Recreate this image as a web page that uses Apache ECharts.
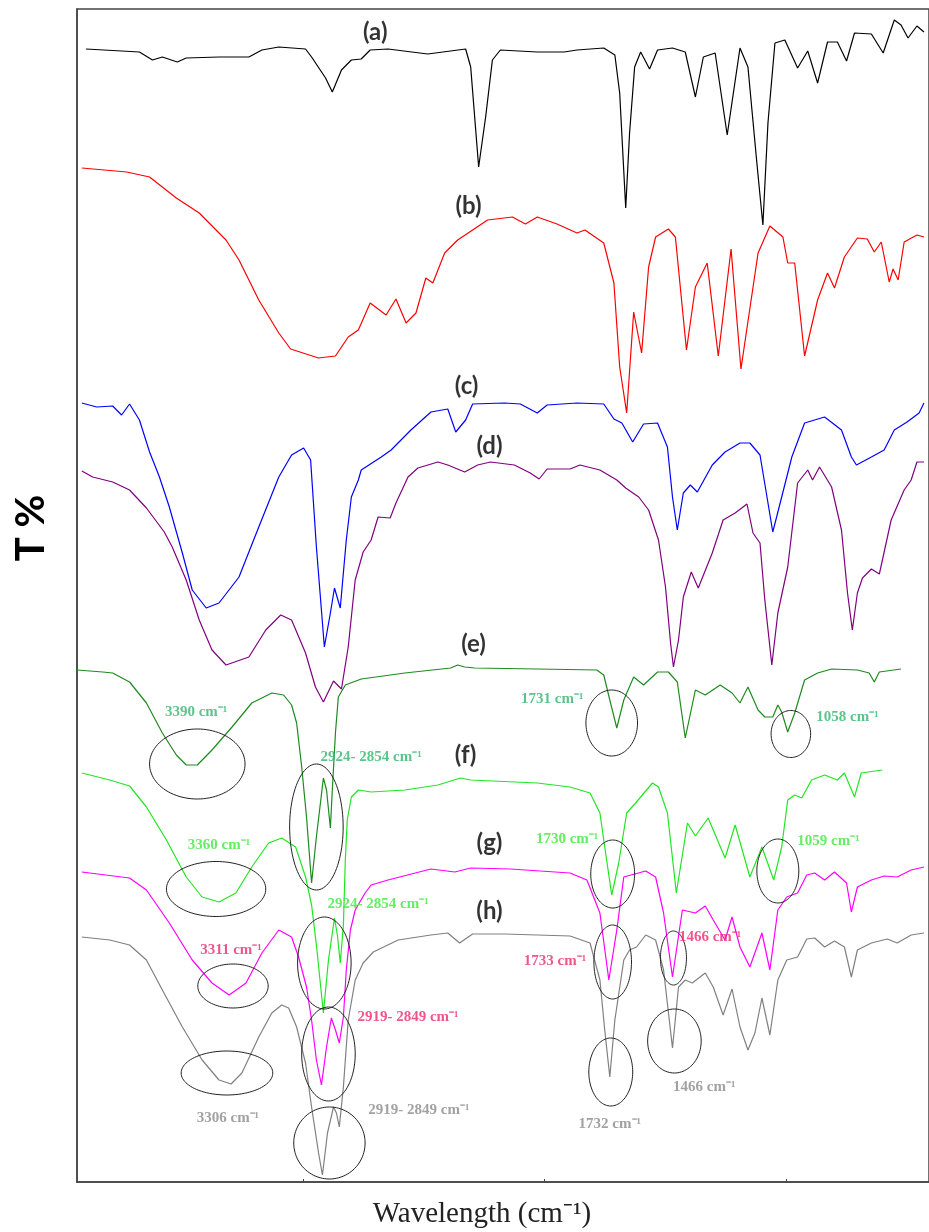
<!DOCTYPE html>
<html>
<head>
<meta charset="utf-8">
<script src="https://cdn.jsdelivr.net/npm/echarts@6/dist/echarts.min.js"></script>
<style>
html,body{margin:0;padding:0;background:#fff;}
#chart{width:929px;height:1232px;}
</style>
</head>
<body>
<div id="chart"></div>
<script>
// FTIR spectra: [wavenumber (cm-1), T% (offset, stacked)]
const curveA = [[3903,113.3],[3681,113.0],[3627,112.2],[3586,112.5],[3524,112.0],[3487,112.4],[3351,112.5],[3227,112.5],[3173,113.2],[3103,113.5],[2992,113.3],[2967,112.5],[2909,110.4],[2881,109.0],[2843,111.2],[2802,112.2],[2761,112.3],[2724,113.2],[2650,113.3],[2485,112.8],[2328,113.3],[2307,111.5],[2274,101.5],[2245,106.5],[2217,112.2],[2184,113.2],[2031,113.0],[1920,113.0],[1866,113.2],[1755,113.4],[1709,112.7],[1689,108.9],[1664,97.4],[1648,104.9],[1627,111.5],[1602,113.0],[1565,111.3],[1532,113.2],[1470,113.4],[1417,113.0],[1375,108.5],[1342,112.5],[1293,112.9],[1243,104.7],[1190,113.4],[1157,111.5],[1120,101.9],[1095,95.7],[1074,105.9],[1045,113.9],[1004,114.2],[951,111.4],[909,113.1],[868,109.9],[827,114.0],[786,114.0],[748,112.1],[715,114.9],[645,114.8],[596,112.9],[550,116.2],[522,115.7],[493,114.4],[456,115.6],[427,115.0]];

const curveB = [[3920,101.4],[3734,101.0],[3639,100.5],[3528,98.4],[3433,96.9],[3322,94.2],[3268,92.2],[3186,88.2],[3103,84.9],[3054,83.3],[2938,82.4],[2868,82.6],[2815,84.5],[2773,85.2],[2724,87.9],[2658,86.7],[2617,88.3],[2575,85.9],[2534,86.9],[2493,90.4],[2464,89.9],[2415,92.9],[2361,94.2],[2237,96.2],[2134,96.5],[2080,95.8],[2031,96.5],[1949,95.8],[1866,94.9],[1833,95.2],[1755,93.9],[1713,89.9],[1689,81.5],[1660,76.9],[1631,87.0],[1598,82.9],[1569,91.5],[1540,94.5],[1487,95.3],[1458,94.5],[1412,83.2],[1375,89.5],[1326,91.9],[1280,82.6],[1227,93.3],[1186,81.3],[1115,92.9],[1066,95.6],[1012,94.5],[992,91.9],[963,91.9],[922,82.6],[868,88.2],[827,90.9],[798,89.4],[757,92.5],[703,94.4],[662,94.3],[633,93.0],[604,94.0],[571,90.0],[555,91.3],[534,90.2],[509,94.0],[456,94.7],[427,94.5]];

const curveC = [[3920,77.9],[3858,77.5],[3792,77.6],[3755,76.7],[3722,77.8],[3681,76.2],[3639,73.0],[3598,70.5],[3557,67.5],[3503,62.9],[3462,59.2],[3404,57.4],[3351,57.9],[3268,60.5],[3186,65.5],[3103,70.5],[3050,72.7],[3000,73.4],[2971,72.2],[2947,63.5],[2914,53.5],[2889,56.9],[2872,59.4],[2848,57.4],[2823,64.2],[2802,68.5],[2773,70.2],[2761,71.2],[2678,72.5],[2637,73.2],[2555,75.2],[2472,77.0],[2402,77.3],[2369,75.0],[2328,76.2],[2299,77.8],[2167,77.9],[2101,77.8],[2031,76.9],[1990,77.7],[1866,77.9],[1755,77.8],[1713,76.3],[1680,75.9],[1635,74.0],[1590,75.8],[1532,75.9],[1491,73.5],[1470,68.5],[1450,65.2],[1425,68.9],[1396,69.7],[1367,69.0],[1305,71.7],[1252,73.0],[1190,73.9],[1149,73.9],[1107,72.7],[1078,68.5],[1054,65.0],[1017,68.5],[975,72.5],[922,75.9],[839,76.5],[769,75.2],[728,72.5],[707,71.7],[645,72.5],[592,73.2],[550,75.2],[497,76.0],[447,76.9],[427,77.9]];

const curveD = [[3920,71.1],[3875,70.5],[3792,70.0],[3722,69.2],[3652,67.4],[3578,65.0],[3545,63.5],[3487,60.2],[3433,56.2],[3380,53.2],[3322,51.7],[3227,52.5],[3157,55.2],[3095,56.7],[3050,56.2],[2992,52.9],[2951,49.5],[2918,48.0],[2876,50.1],[2843,49.3],[2815,53.5],[2786,60.2],[2753,63.0],[2720,64.2],[2691,66.5],[2641,66.4],[2617,67.9],[2567,70.5],[2526,71.4],[2443,72.0],[2402,71.7],[2332,71.0],[2278,71.7],[2225,72.0],[2126,71.7],[2060,70.9],[2023,70.3],[1990,71.3],[1895,71.3],[1854,71.7],[1771,71.2],[1701,70.2],[1664,69.4],[1610,68.5],[1569,67.2],[1528,64.2],[1499,59.5],[1478,53.9],[1466,51.5],[1445,54.2],[1425,58.5],[1392,61.0],[1363,59.4],[1305,62.9],[1260,66.2],[1210,66.9],[1161,67.8],[1136,64.9],[1107,63.9],[1087,58.2],[1058,51.7],[1033,56.9],[992,61.5],[951,69.9],[909,71.2],[889,70.2],[860,71.5],[810,69.5],[769,65.2],[744,58.9],[724,55.2],[703,58.9],[682,60.4],[645,61.3],[612,60.8],[563,66.2],[509,69.2],[480,70.2],[456,72.0],[427,72.0]];

const curveE = [[3969,51.2],[3940,51.2],[3833,51.0],[3792,50.9],[3722,50.0],[3652,47.9],[3586,44.9],[3528,42.7],[3487,41.7],[3441,41.7],[3380,43.2],[3297,45.5],[3215,47.9],[3132,48.9],[3083,48.7],[3050,47.7],[3029,45.9],[3008,41.5],[2988,36.5],[2967,29.9],[2947,34.5],[2918,40.4],[2905,39.2],[2889,35.4],[2881,39.2],[2868,44.9],[2856,48.5],[2827,49.7],[2761,50.3],[2580,50.9],[2390,51.4],[2361,51.7],[2332,51.5],[2291,51.4],[2031,51.3],[1784,51.2],[1755,50.7],[1730,48.2],[1701,45.4],[1672,48.2],[1631,50.5],[1590,49.7],[1532,51.0],[1487,51.0],[1450,50.0],[1417,44.4],[1375,49.2],[1334,48.7],[1272,49.7],[1223,48.9],[1190,47.9],[1157,49.5],[1115,47.2],[1087,46.5],[1054,46.5],[1033,47.7],[1017,47.0],[992,45.0],[963,46.9],[922,50.2],[868,50.9],[810,51.3],[703,51.2],[654,50.9],[633,50.0],[612,51.0],[522,51.3]];

const curveF = [[3920,40.9],[3804,40.2],[3722,39.6],[3652,37.5],[3569,34.2],[3487,30.5],[3421,28.5],[3351,28.0],[3281,28.9],[3215,31.5],[3145,33.9],[3091,34.4],[3033,33.5],[2992,30.5],[2967,27.7],[2947,23.7],[2918,16.9],[2897,22.2],[2872,26.4],[2860,24.7],[2848,21.9],[2835,25.7],[2827,32.2],[2819,36.2],[2802,38.5],[2773,39.2],[2720,39.0],[2580,39.2],[2443,39.7],[2349,40.4],[2307,40.2],[2031,39.9],[1895,39.5],[1812,38.9],[1771,36.9],[1751,33.5],[1722,28.7],[1693,31.9],[1660,36.9],[1623,37.9],[1553,39.9],[1528,39.5],[1491,36.9],[1454,28.9],[1408,35.9],[1375,34.6],[1322,36.4],[1252,32.4],[1210,35.7],[1149,30.5],[1099,33.5],[1050,30.2],[1017,33.5],[992,38.2],[963,38.7],[934,38.4],[893,40.2],[839,40.7],[786,40.2],[757,40.9],[715,38.5],[687,40.9],[600,41.2]];

const curveG = [[3920,31.0],[3722,30.4],[3652,29.2],[3557,25.9],[3462,22.2],[3380,19.9],[3309,18.7],[3239,19.9],[3173,22.9],[3103,25.2],[3050,24.5],[3021,22.5],[2988,19.5],[2967,16.2],[2947,12.2],[2926,9.7],[2905,13.5],[2885,16.4],[2868,15.2],[2852,13.9],[2835,16.5],[2823,21.2],[2806,25.2],[2786,27.2],[2745,28.9],[2720,29.7],[2650,30.2],[2472,31.3],[2373,31.0],[2307,31.4],[2142,31.3],[1895,30.9],[1825,30.2],[1771,26.9],[1734,20.2],[1701,25.2],[1672,30.5],[1581,31.1],[1540,30.5],[1507,26.9],[1470,20.5],[1429,27.2],[1375,26.9],[1334,27.6],[1301,26.2],[1252,24.2],[1223,26.5],[1190,23.5],[1149,21.5],[1099,24.9],[1066,21.2],[1033,27.2],[996,28.5],[951,28.9],[913,30.7],[880,30.9],[839,30.2],[798,31.0],[748,29.9],[728,27.0],[703,29.5],[645,30.2],[592,30.6],[538,30.5],[480,31.2],[427,31.5]];

const curveH = [[3920,24.5],[3804,24.2],[3722,23.7],[3652,22.2],[3586,19.2],[3503,15.5],[3421,12.2],[3351,10.2],[3301,9.8],[3256,10.9],[3186,14.5],[3132,16.9],[3091,17.7],[3062,17.4],[3029,15.5],[2992,11.9],[2967,7.5],[2938,2.9],[2922,0.7],[2901,4.9],[2876,7.5],[2864,6.9],[2852,5.5],[2835,9.5],[2815,16.2],[2786,20.2],[2753,21.9],[2711,23.0],[2608,24.2],[2472,24.7],[2402,24.9],[2353,23.9],[2299,24.8],[2167,24.8],[1895,24.6],[1812,23.9],[1771,20.2],[1751,15.2],[1730,10.5],[1709,16.2],[1672,22.2],[1648,23.2],[1619,23.5],[1581,24.7],[1540,24.2],[1507,21.2],[1470,13.4],[1445,19.5],[1417,20.2],[1388,19.9],[1334,20.9],[1301,19.5],[1260,16.7],[1223,19.3],[1190,15.5],[1157,13.2],[1128,14.9],[1099,18.4],[1066,14.7],[1033,20.2],[996,22.2],[951,22.5],[913,24.3],[880,24.4],[839,23.5],[798,24.1],[757,23.5],[728,20.5],[703,23.2],[645,23.9],[579,24.3],[538,23.9],[480,24.7],[427,24.9]];

// sample tags: [wavenumber, T, text]
const sampleTags = [[2703,115.0,'(a)'],[2316,97.6,'(b)'],[2324,79.6,'(c)'],[2229,73.6,'(d)'],[2295,53.8,'(e)'],[2328,42.7,'(f)'],[2229,33.9,'(g)'],[2229,27.1,'(h)']];

// peak annotations: [wavenumber, T, text]
const peaksE = [[3446,47.0,'3390 cm⁻¹'],[2720,42.5,'2924- 2854 cm⁻¹'],[1969,48.3,'1731 cm⁻¹'],[744,46.5,'1058 cm⁻¹']];
const peaksF = [[3351,33.7,'3360 cm⁻¹'],[2691,27.8,'2924- 2854 cm⁻¹'],[1907,34.3,'1730 cm⁻¹'],[823,34.1,'1059 cm⁻¹']];
const peaksG = [[3301,23.2,'3311 cm⁻¹'],[2567,16.5,'2919- 2849 cm⁻¹'],[1957,22.1,'1733 cm⁻¹'],[1314,24.5,'1466 cm⁻¹']];
const peaksH = [[3314,6.4,'3306 cm⁻¹'],[2522,7.2,'2919- 2849 cm⁻¹'],[1730,5.8,'1732 cm⁻¹'],[1338,9.5,'1466 cm⁻¹']];

// highlight ellipses: [centre wavenumber, centre T, half-width (cm-1), half-height (T)]
const peakEllipses = [[3441,41.8,198,3.5],[2947,35.5,111,6.3],[1722,45.9,107,3.3],[979,44.8,82,2.35],
  [3363,29.3,206,2.75],[2914,21.9,111,4.6],[1718,30.8,91,3.4],[1033,31.1,87,3.2],
  [3293,19.6,146,2.2],[2897,12.8,111,4.7],[1718,22.0,78,3.7],[1466,22.4,54,2.7],
  [3318,10.9,190,2.2],[2893,3.9,148,3.6],[1726,11.0,91,3.4],[1462,14.1,111,3.2]];

const chart = echarts.init(document.getElementById('chart'), null, {renderer:'canvas'});

function line(name, data, color, clip){
  return {type:'line', name, data, showSymbol:false, symbol:'none', silent:true,
    clip: clip !== false, lineStyle:{color, width:1.2}, z:3, animation:false};
}
function tags(data, color, font, size){
  return {type:'scatter', data: data.map(d => ({value:[d[0],d[1]], name:d[2]})),
    symbolSize:0, silent:true, z:6, animation:false,
    label:{show:true, position:'inside', formatter:'{b}', color, fontFamily:font,
      fontWeight:'bold', fontSize:size}};
}

const option = {
  backgroundColor:'#fff',
  animation:false,
  grid:{left:77, right:-5, top:9, bottom:50, show:true, borderColor:'#444', borderWidth:1.5, backgroundColor:'transparent'},
  xAxis:{type:'value', inverse:true, min:406, max:3940,
    axisLine:{show:true, onZero:false, lineStyle:{color:'#444', width:1.5}},
    axisTick:{show:true, inside:true, length:3, customValues:[1000,2000,3000], lineStyle:{color:'#444'}},
    axisLabel:{show:false}, splitLine:{show:false}},
  yAxis:{type:'value', min:0, max:117.3,
    axisLine:{show:true, lineStyle:{color:'#444', width:1.5}},
    axisTick:{show:false}, axisLabel:{show:false}, splitLine:{show:false}},
  graphic:[
    {type:'text', x:31, y:528, rotation:Math.PI/2, style:{text:'T %', font:'bold 40px Lato', fill:'#000', align:'center', verticalAlign:'middle'}},
    {type:'text', x:482, y:1214, style:{text:'Wavelength (cm⁻¹)', font:'29px "Liberation Serif"', fill:'#222', align:'center', verticalAlign:'middle'}}
  ],
  series:[
    line('a', curveA, '#000000'),
    line('b', curveB, '#ff0000'),
    line('c', curveC, '#0000ff'),
    line('d', curveD, '#800080'),
    line('e', curveE, '#1f8a1f', false),
    line('f', curveF, '#22e622'),
    line('g', curveG, '#ff00ff'),
    line('h', curveH, '#808080'),
    {type:'custom', silent:true, z:4, animation:false, data:peakEllipses,
      encode:{x:0, y:1},
      renderItem:function(params, api){
        const c = api.coord([api.value(0), api.value(1)]);
        const s = api.size([api.value(2), api.value(3)]);
        const rx = Math.abs(s[0]), ry = Math.abs(s[1]);
        const pts = [];
        for (let i=0;i<96;i++){ const a = i/96*Math.PI*2; pts.push([c[0]+rx*Math.cos(a), c[1]+ry*Math.sin(a)]); }
        return {type:'polygon', shape:{points:pts}, style:{fill:null, stroke:'#222', lineWidth:1}};
      }},
    tags(sampleTags, '#000', 'Lato', 24),
    tags(peaksE, '#33b56e', '"Liberation Serif"', 15),
    tags(peaksF, '#3ee83e', '"Liberation Serif"', 15),
    tags(peaksG, '#ea2c6c', '"Liberation Serif"', 15),
    tags(peaksH, '#8a8a8a', '"Liberation Serif"', 15)
  ]
};
chart.setOption(option);
</script>
</body>
</html>
